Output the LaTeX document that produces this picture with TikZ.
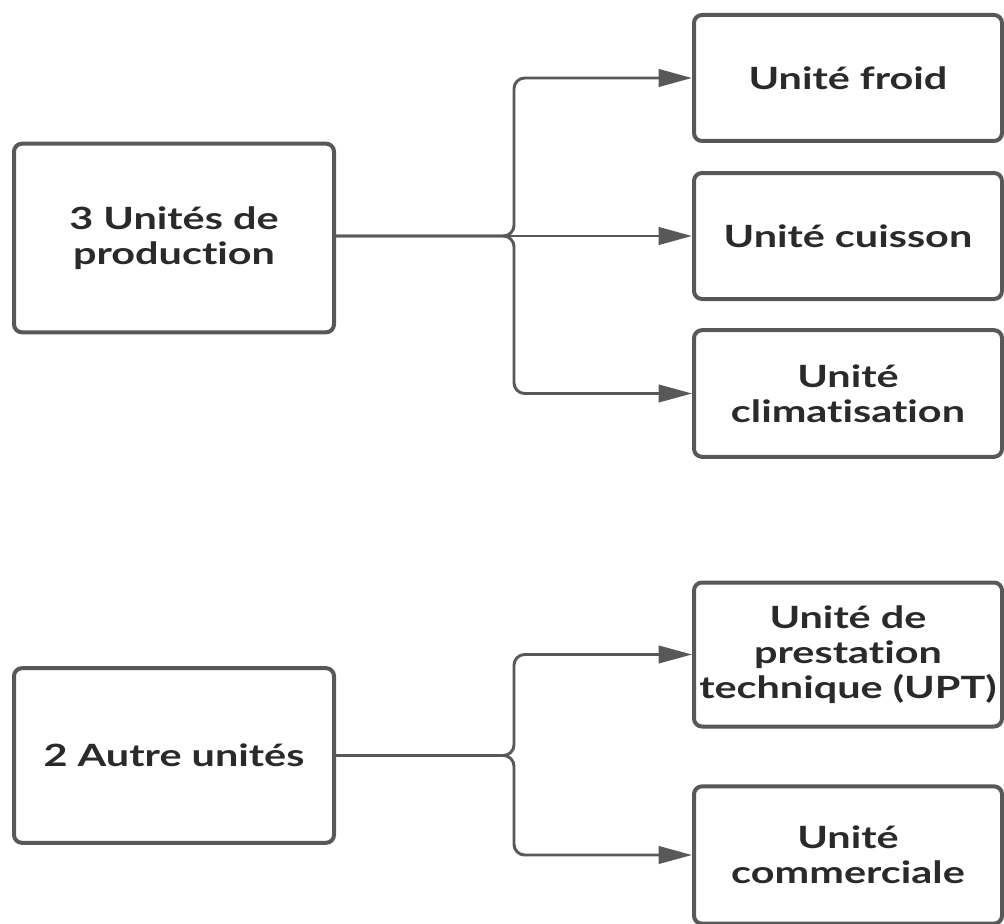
\documentclass[tikz,border=0pt]{standalone}
\usepackage{fontspec}
\setmainfont{Lato}[FakeStretch=1.35, Ligatures=NoCommon]
\usetikzlibrary{arrows.meta}
\definecolor{linegray}{HTML}{585858}
\definecolor{textdark}{HTML}{2A2A2A}
\tikzset{
  unitbox/.style={draw=linegray, line width=3pt, rounded corners=6pt, align=center,
    inner sep=0pt, text=textdark, font=\fontsize{23}{26.25}\selectfont\bfseries},
  link/.style={draw=linegray, line width=2.2pt, rounded corners=8pt,
    -{Triangle[length=25pt,width=13pt]}}
}
\begin{document}
\begin{tikzpicture}[x=0.75pt,y=-0.75pt]
\useasboundingbox (0,0) rectangle (1004,924);
\node[unitbox, minimum width=240pt, minimum height=141.5pt] (prod) at (174,238) {3 Unités de\\production};
\node[unitbox, minimum width=231pt, minimum height=94.5pt] (froid) at (848,78) {Unité froid};
\node[unitbox, minimum width=231pt, minimum height=94.5pt] (cuisson) at (848,236) {Unité cuisson};
\node[unitbox, minimum width=231pt, minimum height=95pt] (clim) at (848,393.5) {Unité\\climatisation};
\node[unitbox, minimum width=240pt, minimum height=131pt] (autre) at (174,755.5) {2 Autre unités};
\node[unitbox, minimum width=231pt, minimum height=108pt] (upt) at (848,654.5) {Unité de\\prestation\\technique (UPT)};
\node[unitbox, minimum width=231pt, minimum height=103pt] (comm) at (848,855) {Unité\\commerciale};
\coordinate (j1) at (514,236);
\coordinate (j2) at (514,755.5);
\draw[link] (prod.east |- j1) -- (j1) |- (froid.west);
\draw[link] (prod.east |- j1) -- (cuisson.west);
\draw[link] (prod.east |- j1) -- (j1) |- (clim.west);
\draw[link] (autre.east) -- (j2) |- (upt.west);
\draw[link] (autre.east) -- (j2) |- (comm.west);
\end{tikzpicture}
\end{document}
